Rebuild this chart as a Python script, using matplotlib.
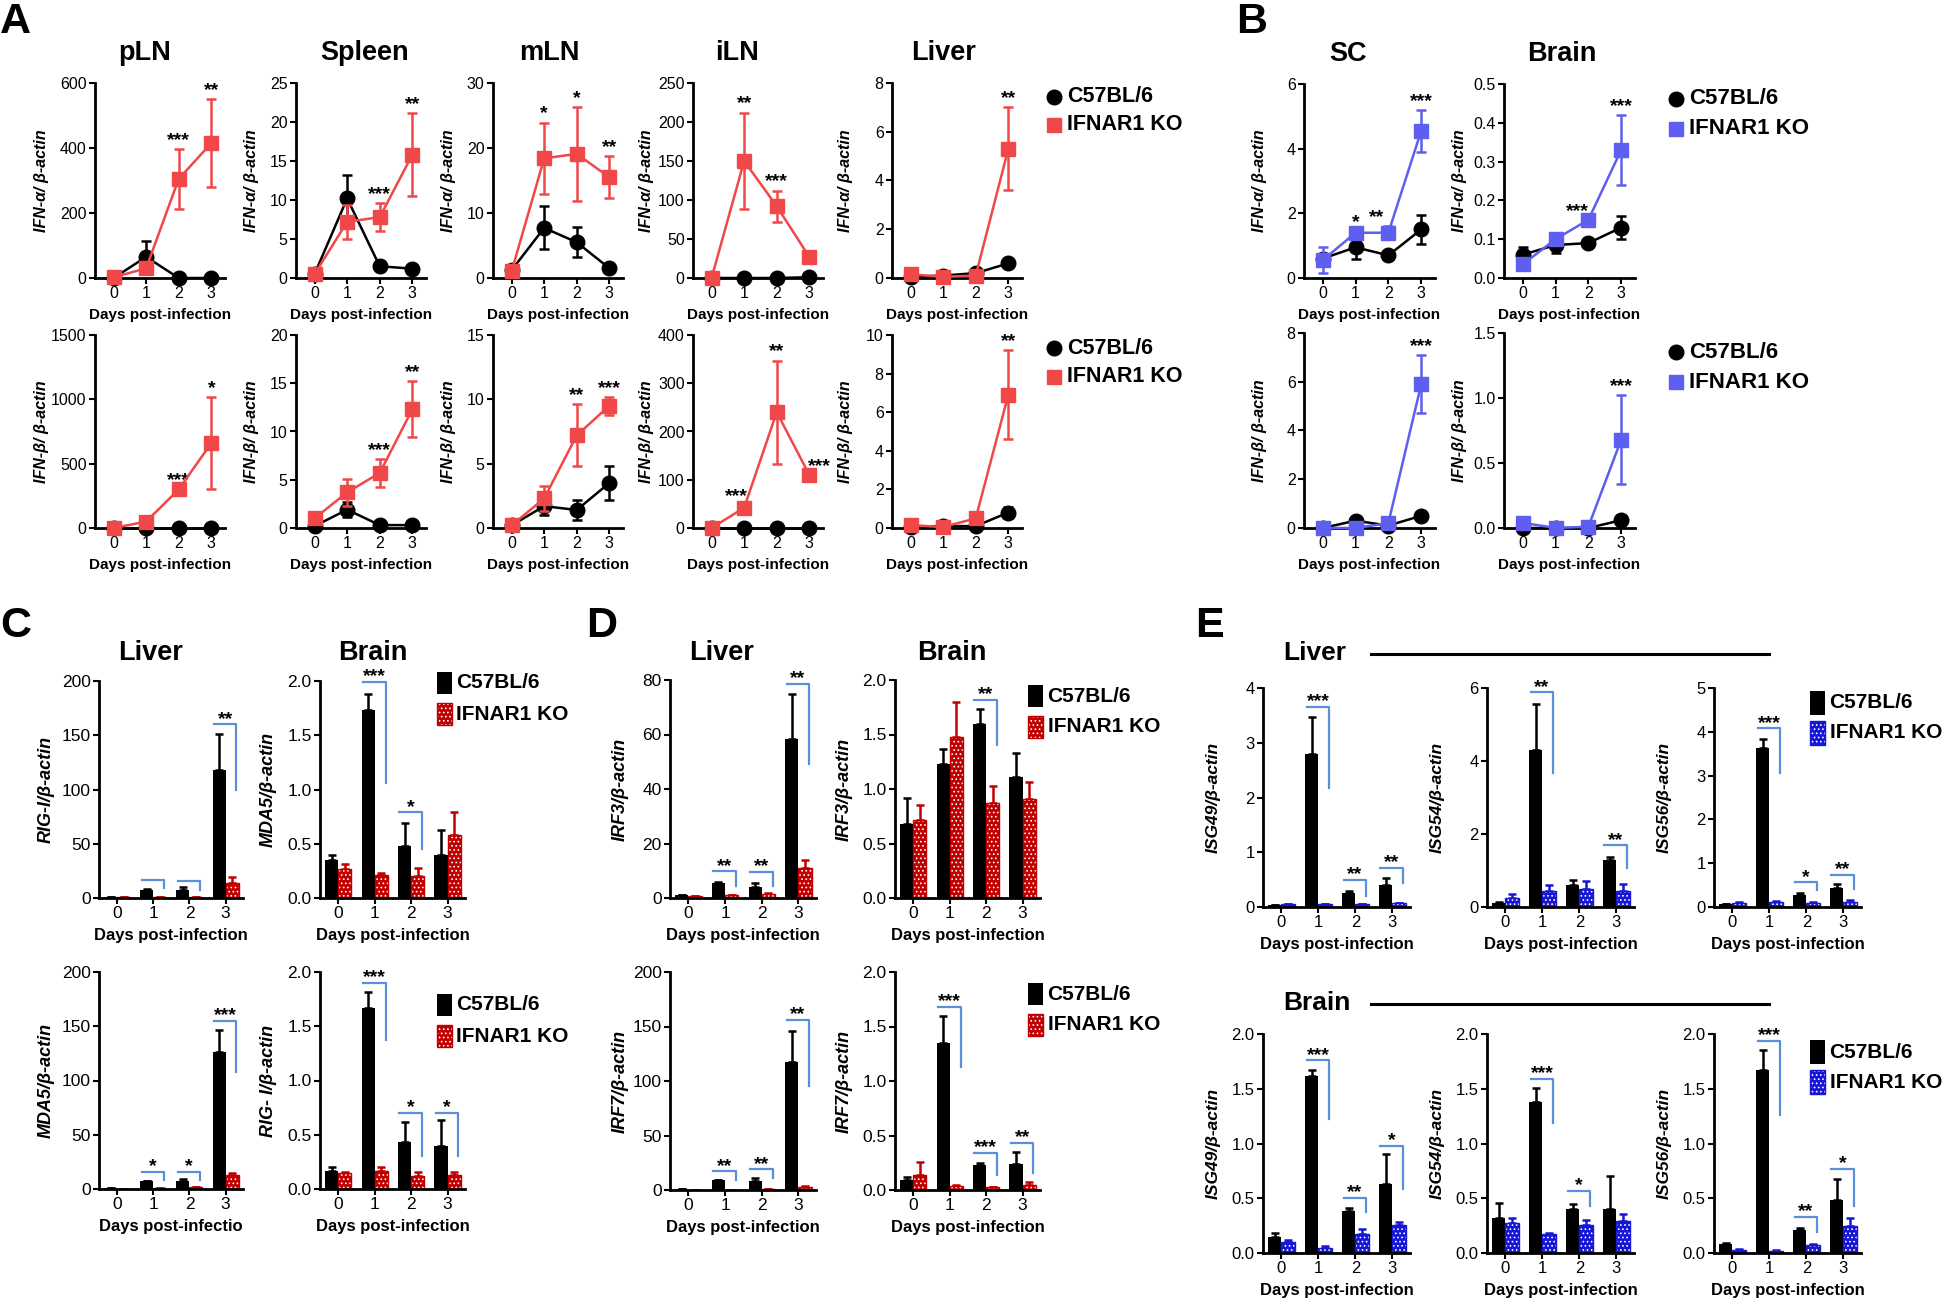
import matplotlib.pyplot as plt
from matplotlib.lines import Line2D
from matplotlib.patches import Rectangle
from matplotlib.ticker import FormatStrFormatter
import numpy as np

W, H = 1946, 1300
days = np.array([0, 1, 2, 3])

# ---------------- A: IFN-a (top row) / IFN-b (bottom row), line plots
a_organs = ["pLN", "Spleen", "mLN", "iLN", "Liver"]
a_alpha_ymax = [600, 25, 30, 250, 8]
a_alpha_step = [200, 5, 10, 50, 2]
a_alpha_b6 = [[0, 65, 0, 0], [0.5, 10.2, 1.5, 1.2], [1.2, 7.7, 5.5, 1.5],
              [0, 0, 0, 1], [0.05, 0.1, 0.2, 0.6]]
a_alpha_b6_err = [[0, 50, 0, 0], [0, 3, 0, 0], [0, 3.3, 2.3, 0],
                  [0, 0, 0, 0], [0, 0, 0, 0]]
a_alpha_ko = [[2, 30, 305, 415], [0.5, 7.2, 7.8, 15.8], [1.0, 18.4, 19.1, 15.5],
              [0, 150, 92, 27], [0.15, 0.05, 0.1, 5.3]]
a_alpha_ko_err = [[0, 15, 92, 135], [0, 2.2, 1.8, 5.3], [0, 5.5, 7.2, 3.2],
                  [0, 62, 20, 0], [0, 0, 0, 1.7]]
a_alpha_stars = [[(2, "***"), (3, "**")], [(2, "***"), (3, "**")],
                 [(1, "*"), (2, "*"), (3, "**")], [(1, "**"), (2, "***")], [(3, "**")]]

a_beta_ymax = [1500, 20, 15, 400, 10]
a_beta_step = [500, 5, 5, 100, 2]
a_beta_b6 = [[0, 0, 0, 0], [0.2, 1.9, 0.3, 0.3], [0.2, 1.7, 1.4, 3.5],
             [0, 0, 0, 0], [0.05, 0.1, 0.1, 0.8]]
a_beta_b6_err = [[0, 0, 0, 0], [0, 0.8, 0, 0], [0, 0.7, 0.8, 1.3],
                 [0, 0, 0, 0], [0, 0, 0, 0.3]]
a_beta_ko = [[0, 50, 300, 660], [1.0, 3.7, 5.7, 12.3], [0.2, 2.3, 7.2, 9.5],
             [0, 42, 240, 110], [0.15, 0.05, 0.5, 6.9]]
a_beta_ko_err = [[0, 0, 0, 355], [0, 1.4, 1.4, 2.9], [0, 1.0, 2.4, 0.7],
                 [0, 5, 107, 0], [0, 0, 0, 2.3]]
a_beta_stars = [[(2, "***"), (3, "*")], [(2, "***"), (3, "**")], [(2, "**"), (3, "***")],
                [(0.75, "***"), (2, "**"), (3.3, "***")], [(3, "**")]]

# ---------------- B: SC / Brain, line plots
b_organs = ["SC", "Brain"]
b_alpha_ymax = [6, 0.5]
b_alpha_step = [2, 0.1]
b_alpha_b6 = [[0.6, 0.95, 0.7, 1.5], [0.06, 0.085, 0.09, 0.13]]
b_alpha_b6_err = [[0.1, 0.35, 0.1, 0.45], [0.02, 0.02, 0, 0.03]]
b_alpha_ko = [[0.55, 1.4, 1.4, 4.55], [0.035, 0.1, 0.15, 0.33]]
b_alpha_ko_err = [[0.4, 0.05, 0.2, 0.65], [0.01, 0, 0, 0.09]]
b_alpha_stars = [[(1, "*"), (1.64, "**"), (3, "***")], [(1.67, "***"), (3, "***")]]

b_beta_ymax = [8, 1.5]
b_beta_step = [2, 0.5]
b_beta_b6 = [[0, 0.3, 0.1, 0.5], [0, 0, 0, 0.06]]
b_beta_b6_err = [[0, 0, 0, 0], [0, 0, 0, 0.04]]
b_beta_ko = [[0, 0, 0.2, 5.9], [0.04, 0, 0.01, 0.68]]
b_beta_ko_err = [[0, 0, 0, 1.2], [0, 0, 0, 0.34]]
b_beta_stars = [[(3, "***")], [(3, "***")]]

# ---------------- C / D / E: bar charts (mean, sem, brackets: day, stars, top, drop)
c_liver_rig_b6, c_liver_rig_b6_err = [1, 7, 7, 118], [0, 1, 3, 33]
c_liver_rig_ko, c_liver_rig_ko_err = [0.5, 0.5, 0.5, 14], [0, 0, 0, 5]
c_liver_rig_sig = [(1, "", 17, 9), (2, "", 16, 7), (3, "**", 160, 100)]
c_brain_mda_b6, c_brain_mda_b6_err = [0.35, 1.73, 0.48, 0.40], [0.05, 0.15, 0.21, 0.23]
c_brain_mda_ko, c_brain_mda_ko_err = [0.27, 0.21, 0.20, 0.58], [0.04, 0.02, 0.08, 0.21]
c_brain_mda_sig = [(1, "***", 1.99, 1.06), (2, "*", 0.79, 0.45)]
c_liver_mda_b6, c_liver_mda_b6_err = [1, 7, 7, 126], [0, 0.5, 2.5, 21]
c_liver_mda_ko, c_liver_mda_ko_err = [0.3, 1, 1.5, 13], [0, 0, 0, 2]
c_liver_mda_sig = [(1, "*", 16, 8), (2, "*", 16, 8.6), (3, "***", 155, 108)]
c_brain_rig_b6, c_brain_rig_b6_err = [0.17, 1.67, 0.43, 0.40], [0.03, 0.15, 0.19, 0.24]
c_brain_rig_ko, c_brain_rig_ko_err = [0.15, 0.17, 0.12, 0.13], [0.01, 0.03, 0.04, 0.03]
c_brain_rig_sig = [(1, "***", 1.90, 1.37), (2, "*", 0.70, 0.30), (3, "*", 0.70, 0.30)]

d_liver_irf3_b6, d_liver_irf3_b6_err = [1.2, 5.5, 4.2, 58.5], [0, 0.3, 1.2, 16.5]
d_liver_irf3_ko, d_liver_irf3_ko_err = [0.8, 1.2, 1.5, 11], [0, 0, 0.3, 3]
d_liver_irf3_sig = [(1, "**", 9.8, 4.5), (2, "**", 9.5, 4.5), (3, "**", 78.5, 49)]
d_brain_irf3_b6, d_brain_irf3_b6_err = [0.68, 1.23, 1.60, 1.11], [0.24, 0.14, 0.13, 0.22]
d_brain_irf3_ko, d_brain_irf3_ko_err = [0.72, 1.48, 0.87, 0.91], [0.13, 0.32, 0.16, 0.15]
d_brain_irf3_sig = [(2, "**", 1.82, 1.40)]
d_liver_irf7_b6, d_liver_irf7_b6_err = [0.5, 9, 8, 117], [0, 0.5, 3, 29]
d_liver_irf7_ko, d_liver_irf7_ko_err = [0.3, 0.3, 0.5, 3], [0, 0, 0, 1]
d_liver_irf7_sig = [(1, "**", 17, 9), (2, "**", 19, 11), (3, "**", 156, 95)]
d_brain_irf7_b6, d_brain_irf7_b6_err = [0.09, 1.35, 0.23, 0.24], [0.03, 0.25, 0.02, 0.11]
d_brain_irf7_ko, d_brain_irf7_ko_err = [0.14, 0.04, 0.03, 0.05], [0.12, 0.01, 0, 0.02]
d_brain_irf7_sig = [(1, "***", 1.68, 1.13), (2, "***", 0.34, 0.14), (3, "**", 0.43, 0.16)]

e_genes = ["ISG49", "ISG54", "ISG56"]
e_liver_ymax = [4, 6, 5]
e_liver_step = [1, 2, 1]
e_liver_b6 = [[0.03, 2.8, 0.25, 0.4], [0.1, 4.3, 0.6, 1.3], [0.06, 3.62, 0.27, 0.43]]
e_liver_b6_err = [[0, 0.67, 0.05, 0.13], [0.05, 1.25, 0.15, 0.07], [0.01, 0.22, 0.05, 0.1]]
e_liver_ko = [[0.05, 0.05, 0.05, 0.07], [0.25, 0.45, 0.5, 0.45], [0.08, 0.12, 0.1, 0.12]]
e_liver_ko_err = [[0.01, 0.01, 0.01, 0.01], [0.1, 0.15, 0.2, 0.18], [0.03, 0.02, 0.02, 0.03]]
e_liver_sig = [[(1, "***", 3.65, 2.17), (2, "**", 0.50, 0.21), (3, "**", 0.71, 0.43)],
               [(1, "**", 5.88, 3.66), (3, "**", 1.69, 1.08)],
               [(1, "***", 4.08, 3.07), (2, "*", 0.56, 0.38), (3, "**", 0.73, 0.40)]]
e_brain_b6 = [[0.15, 1.62, 0.38, 0.63], [0.32, 1.38, 0.40, 0.40], [0.08, 1.67, 0.21, 0.48]]
e_brain_b6_err = [[0.03, 0.05, 0.03, 0.27], [0.14, 0.13, 0.05, 0.30], [0.01, 0.18, 0.02, 0.20]]
e_brain_ko = [[0.10, 0.05, 0.17, 0.26], [0.27, 0.17, 0.26, 0.29], [0.03, 0.02, 0.07, 0.25]]
e_brain_ko_err = [[0.02, 0.01, 0.05, 0.02], [0.05, 0.01, 0.04, 0.07], [0.01, 0.005, 0.01, 0.07]]
e_brain_sig = [[(1, "***", 1.76, 1.22), (2, "**", 0.50, 0.37), (3, "*", 0.98, 0.58)],
               [(1, "***", 1.59, 1.19), (2, "*", 0.57, 0.43)],
               [(1, "***", 1.94, 1.26), (2, "**", 0.33, 0.19), (3, "*", 0.77, 0.43)]]

groups = ["C57BL/6", "IFNAR1 KO"]
xlab = "Days post-infection"

# ---------------- style
plt.rcParams["font.family"] = ["Liberation Sans", "DejaVu Sans"]
plt.rcParams["hatch.linewidth"] = 0.7

RED_LINE = "#F04848"
BLUE_LINE = "#5E5EF0"
RED_BAR = "#C00000"
BLUE_BAR = "#1616D4"
BRACKET = "#5B8FD9"

fig = plt.figure(figsize=(W / 100, H / 100), dpi=100)
fig.patch.set_facecolor("white")


def px_axes(l, r, t, b):
    ax = fig.add_axes([l / W, 1 - b / H, (r - l) / W, (b - t) / H])
    ax.width_px = r - l
    return ax


def ftext(x, y, s, **kw):
    kw.setdefault("va", "center")
    fig.text(x / W, 1 - y / H, s, **kw)


def style(ax, ymax, step, fs, xlim):
    ax.set_xlim(*xlim)
    ax.set_ylim(0, ymax)
    ax.set_yticks(np.arange(0, ymax + step / 2, step))
    ax.yaxis.set_major_formatter(FormatStrFormatter("%.1f" if step < 1 else "%d"))
    ax.set_xticks(days)
    for s in ["top", "right"]:
        ax.spines[s].set_visible(False)
    for s in ["left", "bottom"]:
        ax.spines[s].set_linewidth(2)
    ax.tick_params(width=1.5, length=4, labelsize=fs, pad=2)


def labels(ax, ylabel, fs_y, fs_x, yoff, xpad):
    ax.set_ylabel(ylabel, fontsize=fs_y, fontweight="bold", style="italic")
    ax.yaxis.set_label_coords(-yoff / ax.width_px, 0.5)
    ax.set_xlabel(xlab, fontsize=fs_x, fontweight="bold", labelpad=xpad)


def line_panel(ax, b6, b6e, ko, koe, color, stars, ylabel, yoff):
    c1 = ax.errorbar(days, b6, yerr=b6e, fmt="-o", color="black", ms=10.5, lw=1.8,
                     elinewidth=1.8, capsize=3.6, capthick=1.8, zorder=3)
    c2 = ax.errorbar(days, ko, yerr=koe, fmt="-s", color=color, ms=10.5, lw=1.8,
                     elinewidth=1.8, capsize=3.6, capthick=1.8, zorder=4)
    for a in list(c1.get_children()) + list(c2.get_children()):
        a.set_clip_on(False)
    tops = np.maximum(np.add(b6, b6e), np.add(ko, koe))
    for xs, s in stars:
        ax.annotate(s, (xs, tops[int(round(xs))]), xytext=(0, 3),
                    textcoords="offset points", ha="center", va="baseline",
                    fontsize=14, fontweight="bold", annotation_clip=False)
    labels(ax, ylabel, 11.5, 11, yoff, 5)


def bar_panel(ax, b6, b6e, ko, koe, color, sig, ylabel, fs_y, fs_x, yoff):
    z = np.zeros(4)
    ax.bar(days - 0.18, b6, 0.36, color="black", zorder=2)
    ax.errorbar(days - 0.18, b6, yerr=[z, b6e], fmt="none", ecolor="black",
                elinewidth=1.8, capsize=3, capthick=1.8, zorder=1)
    ax.bar(days + 0.18, ko, 0.36, facecolor=color, edgecolor="white", hatch="....",
           linewidth=0, zorder=2)
    ax.bar(days + 0.18, ko, 0.36, fill=False, edgecolor=color, linewidth=1.0, zorder=2.1)
    ax.errorbar(days + 0.18, ko, yerr=[z, koe], fmt="none", ecolor=color,
                elinewidth=1.8, capsize=3, capthick=1.8, zorder=1)
    for d, s, h, v in sig:
        ax.plot([d - 0.32, d + 0.30, d + 0.30], [h, h, v], color=BRACKET, lw=1.6,
                clip_on=False, zorder=3)
        if s:
            ax.annotate(s, (d - 0.01, h), xytext=(0, 0.5), textcoords="offset points",
                        ha="center", va="baseline", fontsize=14, fontweight="bold",
                        annotation_clip=False)
    labels(ax, ylabel, fs_y, fs_x, yoff, 5)


def marker_legend(x, y, color, dy, fs):
    fig.add_artist(Line2D([x / W], [1 - y / H], marker="o", color="black", ms=10.5,
                          transform=fig.transFigure))
    fig.add_artist(Line2D([x / W], [1 - (y + dy) / H], marker="s", color=color, ms=10.5,
                          transform=fig.transFigure))
    ftext(x + 13, y, groups[0], fontsize=fs, fontweight="bold")
    ftext(x + 13, y + dy, groups[1], fontsize=fs, fontweight="bold")


def bar_legend(x, y, color, dy, w, h, fs):
    fig.add_artist(Rectangle(((x - w / 2) / W, 1 - (y + h / 2) / H), w / W, h / H,
                             facecolor="black", transform=fig.transFigure))
    fig.add_artist(Rectangle(((x - w / 2) / W, 1 - (y + dy + h / 2) / H), w / W, h / H,
                             facecolor=color, edgecolor="white", hatch="....", lw=0,
                             transform=fig.transFigure))
    fig.add_artist(Rectangle(((x - w / 2) / W, 1 - (y + dy + h / 2) / H), w / W, h / H,
                             fill=False, edgecolor=color, lw=1.0, transform=fig.transFigure))
    ftext(x + w / 2 + 5, y, groups[0], fontsize=fs, fontweight="bold")
    ftext(x + w / 2 + 5, y + dy, groups[1], fontsize=fs, fontweight="bold")


line_xlim = (-0.57, 3.42)
bar_xlim = (-0.5, 3.48)

# ---------------- panel A
a_lefts = [95, 296, 493, 693, 892]
a_title_x = [145, 365, 549, 737, 944]
a_yoff = [46, 37, 37, 39, 39]
for i in range(5):
    ax = px_axes(a_lefts[i], a_lefts[i] + 130, 83, 278)
    style(ax, a_alpha_ymax[i], a_alpha_step[i], 11.5, line_xlim)
    line_panel(ax, a_alpha_b6[i], a_alpha_b6_err[i], a_alpha_ko[i], a_alpha_ko_err[i],
               RED_LINE, a_alpha_stars[i], "IFN-α/ β-actin", a_yoff[i])
    ftext(a_title_x[i], 53, a_organs[i], fontsize=19.5, fontweight="bold", ha="center")

    ax = px_axes(a_lefts[i], a_lefts[i] + 130, 335, 528)
    style(ax, a_beta_ymax[i], a_beta_step[i], 11.5, line_xlim)
    line_panel(ax, a_beta_b6[i], a_beta_b6_err[i], a_beta_ko[i], a_beta_ko_err[i],
               RED_LINE, a_beta_stars[i], "IFN-β/ β-actin", a_yoff[i])
marker_legend(1054, 97, RED_LINE, 28, 15.5)
marker_legend(1054, 348, RED_LINE, 29, 15.5)

# ---------------- panel B
b_lefts = [1304, 1504]
b_title_x = [1348, 1562]
for i in range(2):
    ax = px_axes(b_lefts[i], b_lefts[i] + 131, 84, 278)
    style(ax, b_alpha_ymax[i], b_alpha_step[i], 11.5, line_xlim)
    line_panel(ax, b_alpha_b6[i], b_alpha_b6_err[i], b_alpha_ko[i], b_alpha_ko_err[i],
               BLUE_LINE, b_alpha_stars[i], "IFN-α/ β-actin", 37)
    ftext(b_title_x[i], 54, b_organs[i], fontsize=19.5, fontweight="bold", ha="center")

    ax = px_axes(b_lefts[i], b_lefts[i] + 131, 333, 528)
    style(ax, b_beta_ymax[i], b_beta_step[i], 11.5, line_xlim)
    line_panel(ax, b_beta_b6[i], b_beta_b6_err[i], b_beta_ko[i], b_beta_ko_err[i],
               BLUE_LINE, b_beta_stars[i], "IFN-β/ β-actin", 37)
marker_legend(1676, 99, BLUE_LINE, 30, 16)
marker_legend(1676, 352, BLUE_LINE, 30, 16)

# ---------------- panel C
ax = px_axes(99, 243, 681, 898)
style(ax, 200, 50, 12.5, bar_xlim)
bar_panel(ax, c_liver_rig_b6, c_liver_rig_b6_err, c_liver_rig_ko, c_liver_rig_ko_err,
          RED_BAR, c_liver_rig_sig, "RIG-I/β-actin", 13, 12, 44)
ax = px_axes(320, 465, 681, 898)
style(ax, 2.0, 0.5, 12.5, bar_xlim)
bar_panel(ax, c_brain_mda_b6, c_brain_mda_b6_err, c_brain_mda_ko, c_brain_mda_ko_err,
          RED_BAR, c_brain_mda_sig, "MDA5/β-actin", 13, 12, 43)
ax = px_axes(99, 243, 972, 1189)
style(ax, 200, 50, 12.5, bar_xlim)
bar_panel(ax, c_liver_mda_b6, c_liver_mda_b6_err, c_liver_mda_ko, c_liver_mda_ko_err,
          RED_BAR, c_liver_mda_sig, "MDA5/β-actin", 13, 12, 44)
ax.set_xlabel("Days post-infectio", fontsize=12, fontweight="bold", labelpad=5)
ax = px_axes(320, 465, 972, 1189)
style(ax, 2.0, 0.5, 12.5, bar_xlim)
bar_panel(ax, c_brain_rig_b6, c_brain_rig_b6_err, c_brain_rig_ko, c_brain_rig_ko_err,
          RED_BAR, c_brain_rig_sig, "RIG- I/β-actin", 13, 12, 43)
ftext(151, 653, "Liver", fontsize=19.5, fontweight="bold", ha="center")
ftext(373, 653, "Brain", fontsize=19.5, fontweight="bold", ha="center")
bar_legend(444, 683, RED_BAR, 31, 15, 22, 15)
bar_legend(444, 1005, RED_BAR, 31, 15, 22, 15)

# ---------------- panel D
ax = px_axes(670, 816, 680, 898)
style(ax, 80, 20, 12.5, bar_xlim)
bar_panel(ax, d_liver_irf3_b6, d_liver_irf3_b6_err, d_liver_irf3_ko, d_liver_irf3_ko_err,
          RED_BAR, d_liver_irf3_sig, "IRF3/β-actin", 13, 12, 41)
ax = px_axes(895, 1040, 680, 898)
style(ax, 2.0, 0.5, 12.5, bar_xlim)
bar_panel(ax, d_brain_irf3_b6, d_brain_irf3_b6_err, d_brain_irf3_ko, d_brain_irf3_ko_err,
          RED_BAR, d_brain_irf3_sig, "IRF3/β-actin", 13, 12, 42)
ax = px_axes(670, 816, 972, 1190)
style(ax, 200, 50, 12.5, bar_xlim)
bar_panel(ax, d_liver_irf7_b6, d_liver_irf7_b6_err, d_liver_irf7_ko, d_liver_irf7_ko_err,
          RED_BAR, d_liver_irf7_sig, "IRF7/β-actin", 13, 12, 41)
ax = px_axes(895, 1040, 972, 1190)
style(ax, 2.0, 0.5, 12.5, bar_xlim)
bar_panel(ax, d_brain_irf7_b6, d_brain_irf7_b6_err, d_brain_irf7_ko, d_brain_irf7_ko_err,
          RED_BAR, d_brain_irf7_sig, "IRF7/β-actin", 13, 12, 42)
ftext(722, 653, "Liver", fontsize=19.5, fontweight="bold", ha="center")
ftext(952, 653, "Brain", fontsize=19.5, fontweight="bold", ha="center")
bar_legend(1035, 696, RED_BAR, 31, 15, 22, 15)
bar_legend(1035, 994, RED_BAR, 31, 15, 22, 15)

# ---------------- panel E
e_lefts = [1263, 1487, 1714]
for i in range(3):
    ax = px_axes(e_lefts[i], e_lefts[i] + 147, 688, 907)
    style(ax, e_liver_ymax[i], e_liver_step[i], 12, bar_xlim)
    bar_panel(ax, e_liver_b6[i], e_liver_b6_err[i], e_liver_ko[i], e_liver_ko_err[i],
              BLUE_BAR, e_liver_sig[i], e_genes[i] + "/β-actin", 12.5, 12, 42)
    ax = px_axes(e_lefts[i], e_lefts[i] + 147, 1034, 1253)
    style(ax, 2.0, 0.5, 12, bar_xlim)
    bar_panel(ax, e_brain_b6[i], e_brain_b6_err[i], e_brain_ko[i], e_brain_ko_err[i],
              BLUE_BAR, e_brain_sig[i], e_genes[i] + "/β-actin", 12.5, 12, 42)
for label, y in [("Liver", 653), ("Brain", 1003)]:
    ftext(1283, y, label, fontsize=19, fontweight="bold", ha="left")
    fig.add_artist(Line2D([1371 / W, 1769 / W], [1 - (y + 1) / H] * 2, color="black",
                          lw=2.2, transform=fig.transFigure))
bar_legend(1817, 703, BLUE_BAR, 30, 15, 24, 15)
bar_legend(1817, 1052, BLUE_BAR, 30, 15, 24, 15)

# ---------------- panel letters
for letter, x, y in [("A", 0, 22), ("B", 1236, 22), ("C", 0, 626), ("D", 586, 626),
                     ("E", 1195, 626)]:
    ftext(x, y, letter, fontsize=31, fontweight="bold", ha="left")

fig.savefig("out.png", dpi=100)
